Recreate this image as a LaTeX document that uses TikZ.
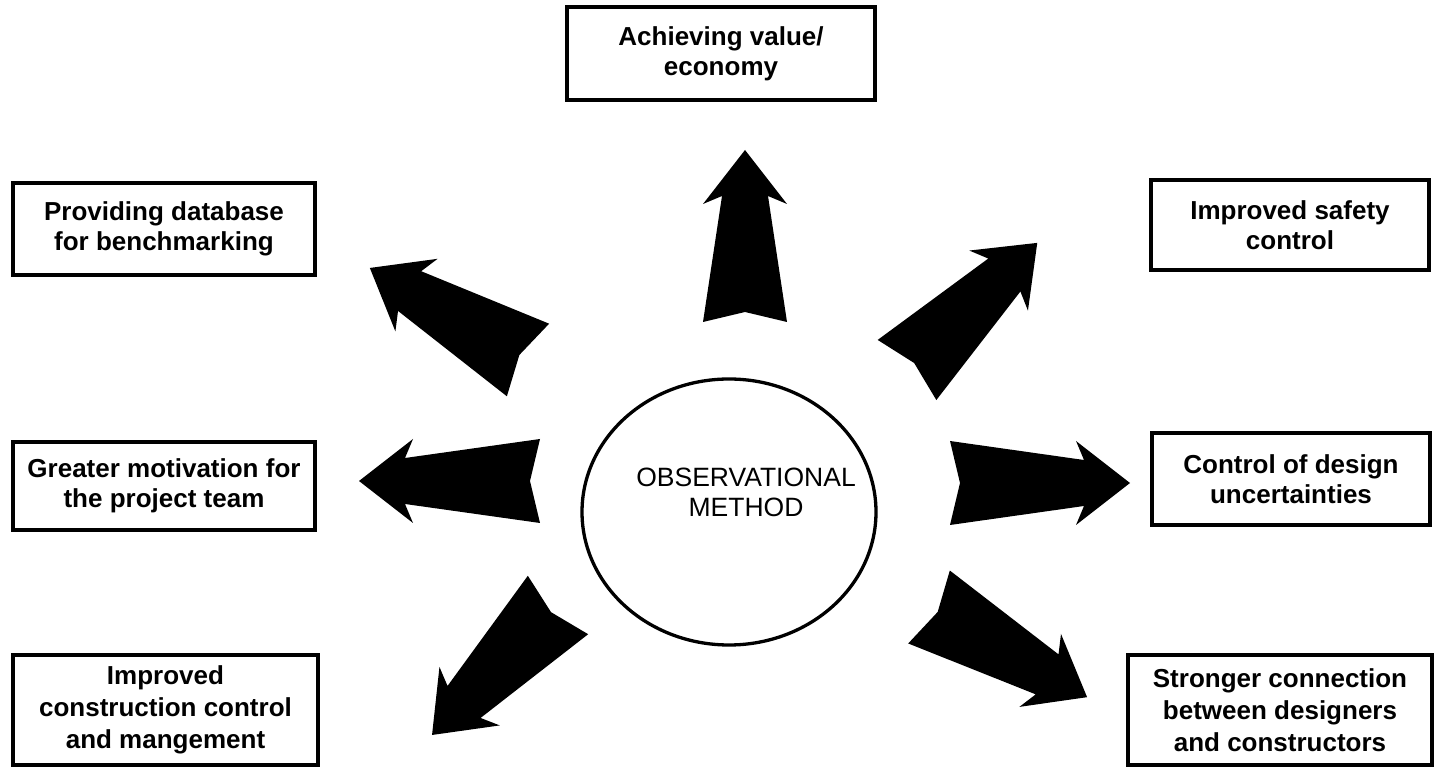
\documentclass[tikz,border=0pt]{standalone}
\usepackage{fontspec}
\setmainfont{Liberation Sans}
\usetikzlibrary{shapes.geometric}

\tikzset{
  benefit/.style={draw, line width=4pt, rectangle, inner sep=0pt, align=center,
    font=\fontsize{26}{30}\selectfont\bfseries},
  tallbenefit/.style={benefit, font=\fontsize{26}{32}\selectfont\bfseries},
  hub/.style={draw, line width=3.3pt, ellipse, inner sep=0pt},
  hubtext/.style={align=center, font=\fontsize{26.5}{30}\selectfont},
  % solid block arrow pointing along +x, tail at origin, #1 = length
  blockarrow/.pic={
    \fill[black] (0,42) -- (10,0) -- (0,-42) -- (#1-46,-23) -- (#1-54,-42)
      -- (#1,0) -- (#1-54,42) -- (#1-46,23) -- cycle;
  }
}

\begin{document}
\begin{tikzpicture}[x=1pt, y=1pt]
  \useasboundingbox (0,0) rectangle (1443,768);
  \fill[white] (0,0) rectangle (1443,768);

  % central method
  \node[hub, minimum width=294pt, minimum height=266pt] (om) at (729,256) {};
  \node[hubtext] (omtext) at (746,276) {OBSERVATIONAL\\METHOD};

  % benefit boxes
  \node[benefit, minimum width=308pt, minimum height=93pt] (value) at (721,714.5)
    {Achieving value/\\economy};
  \node[benefit, minimum width=302pt, minimum height=92pt] (bench) at (164,539)
    {Providing database\\for benchmarking};
  \node[benefit, minimum width=278pt, minimum height=90pt] (safety) at (1290,543)
    {Improved safety\\control};
  \node[benefit, minimum width=302pt, minimum height=88pt] (motiv) at (164,282)
    {Greater motivation for\\the project team};
  \node[benefit, minimum width=278pt, minimum height=92pt] (design) at (1291,289)
    {Control of design\\uncertainties};
  \node[tallbenefit, minimum width=305pt, minimum height=110pt] (constr) at (165.5,58)
    {Improved\\construction control\\and mangement};
  \node[tallbenefit, minimum width=304pt, minimum height=110pt] (connect) at (1280,58)
    {Stronger connection\\between designers\\and constructors};

  % arrow tails around the method
  \coordinate (tup) at (745,446);
  \coordinate (tul) at (528,408);
  \coordinate (tur) at (907,398);
  \coordinate (tl)  at (540,287);
  \coordinate (tr)  at (950,285);
  \coordinate (tll) at (558,163);
  \coordinate (tlr) at (929,161);

  % block arrows from the method towards each benefit
  \pic[rotate=90]     at (tup) {blockarrow=172};
  \pic[rotate=149.8]  at (tul) {blockarrow=183};
  \pic[rotate=44.3]   at (tur) {blockarrow=182};
  \pic[rotate=180]    at (tl)  {blockarrow=181};
  \pic[rotate=0]      at (tr)  {blockarrow=180};
  \pic[rotate=-134.1] at (tll) {blockarrow=181};
  \pic[rotate=-29.7]  at (tlr) {blockarrow=182};
\end{tikzpicture}
\end{document}
